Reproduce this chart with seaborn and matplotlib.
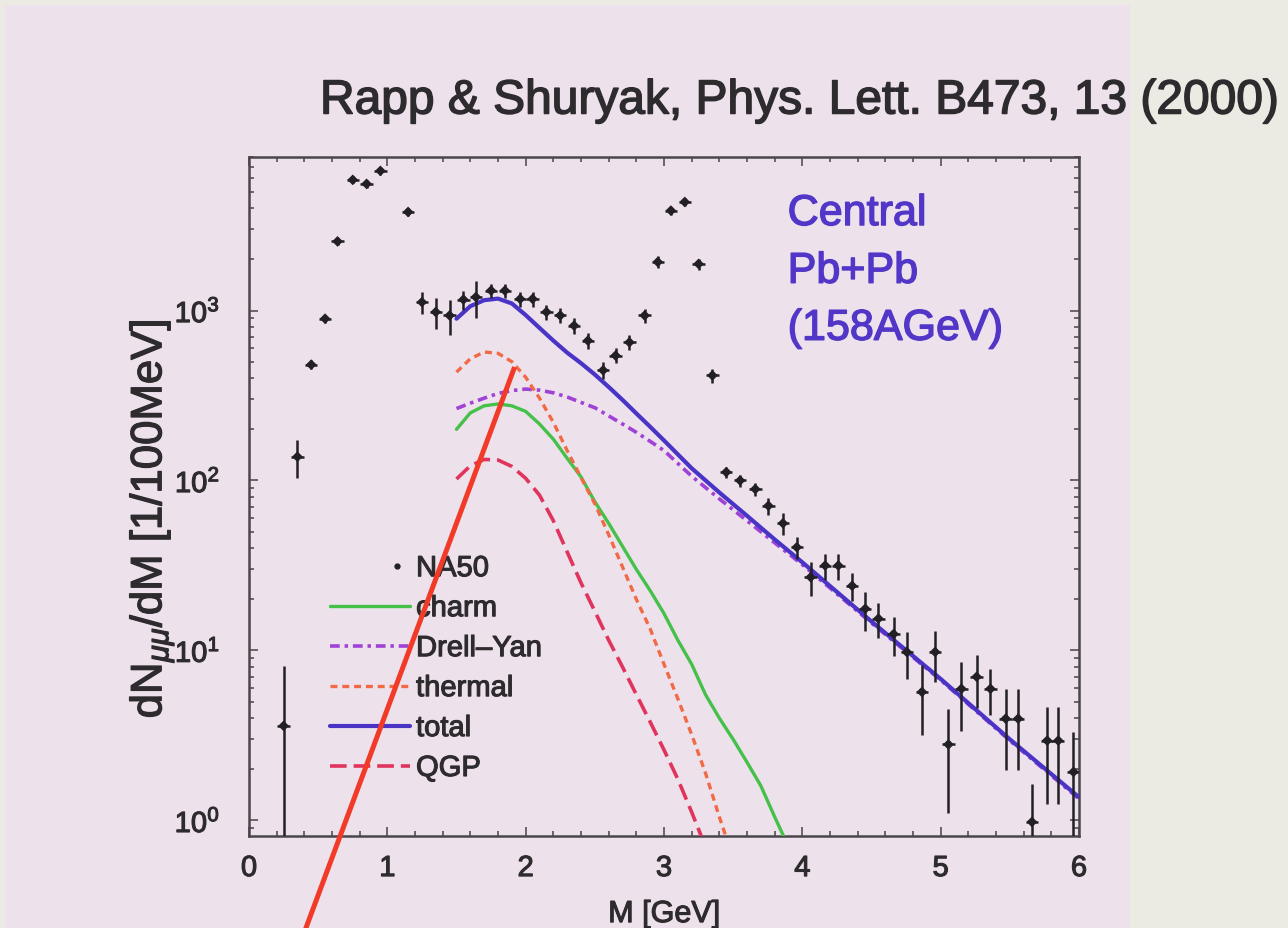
import numpy as np
import pandas as pd
import matplotlib
matplotlib.use("Agg")
import matplotlib.pyplot as plt
import matplotlib.patheffects as pe
from matplotlib.patches import Rectangle
from matplotlib.lines import Line2D
from matplotlib.legend_handler import HandlerLine2D
from matplotlib.ticker import LogLocator, MultipleLocator, NullFormatter
import seaborn as sns

# ---------------- data ----------------
# NA50 dimuon spectrum, central Pb+Pb at 158 AGeV
na50_mass = [0.25, 0.35, 0.45, 0.55, 0.64, 0.75, 0.85, 0.95, 1.15,
             1.25, 1.35, 1.45, 1.55, 1.64, 1.75, 1.85, 1.96, 2.05, 2.15, 2.25,
             2.35, 2.45, 2.56, 2.65, 2.75, 2.86, 2.955, 3.05, 3.15, 3.25, 3.35,
             3.45, 3.55, 3.66, 3.755, 3.86, 3.96, 4.06, 4.165, 4.26, 4.36,
             4.455, 4.55, 4.66, 4.755, 4.865, 4.96, 5.056, 5.15, 5.26, 5.36,
             5.47, 5.56, 5.66, 5.77, 5.85, 5.96]
na50_yield = [3.6, 138, 480, 895, 2550, 5870, 5560, 6630, 3800,
              1120, 980, 935, 1160, 1200, 1310, 1310, 1170, 1170, 980, 935,
              815, 665, 445, 543, 650, 935, 1930, 3870, 4350, 1880, 415,
              112, 100, 89, 71, 56, 40.5, 27, 31.6, 31.6, 24,
              17.6, 15.4, 12.5, 9.8, 5.7, 9.8, 2.8, 5.95, 7.0, 5.95,
              3.97, 3.97, 0.98, 2.95, 2.95, 1.93]
na50_err = [4.5, 35, 30, 50, 130, 280, 280, 320, 200,
            160, 200, 220, 150, 300, 130, 130, 120, 120, 100, 95,
            85, 70, 50, 55, 65, 90, 150, 220, 230, 140, 40,
            8, 8, 8, 8, 8, 6, 6, 5.5, 5.5, 4.5,
            4.5, 3.6, 3.2, 3.0, 2.5, 3.3, 1.7, 2.6, 2.4, 1.8,
            2.0, 2.0, 0.65, 1.7, 1.7, 1.4]
na50_bin_half = 0.045

# model curves (Rapp & Shuryak)
model_mass = [1.5, 1.6, 1.7, 1.8, 1.9, 2.0, 2.1, 2.2, 2.3, 2.4, 2.5, 2.6, 2.7,
              2.8, 2.9, 3.0, 3.2, 3.4, 3.6, 3.8, 4.0, 4.5, 5.0, 5.5, 6.0]
total = [895, 1060, 1150, 1175, 1100, 940, 790, 665, 565, 490, 420, 355, 298,
         248, 207, 172, 118, 85, 62, 45, 33, 14.8, 6.8, 3.0, 1.37]
drell_yan = [265, 285, 305, 325, 338, 345, 340, 328, 310, 288, 268, 240, 215,
             192, 170, 150, 106, 78, 58, 43, 32, 14.5, 6.7, 2.95, 1.34]

charm_mass = [1.5, 1.6, 1.7, 1.8, 1.9, 2.0, 2.1, 2.2, 2.3, 2.4, 2.5, 2.6, 2.7,
              2.8, 2.9, 3.0, 3.1, 3.2, 3.3, 3.4, 3.5, 3.6, 3.7, 3.8, 3.9]
charm = [200, 250, 275, 282, 275, 255, 215, 175, 135, 105, 75, 56, 41,
         30, 22.5, 16.5, 11.5, 8.3, 5.5, 4.0, 3.0, 2.2, 1.6, 1.05, 0.7]

thermal_mass = [1.5, 1.6, 1.7, 1.8, 1.9, 2.0, 2.1, 2.2, 2.3, 2.4, 2.5, 2.6,
                2.7, 2.8, 2.9, 3.0, 3.1, 3.2, 3.3, 3.4, 3.5]
thermal = [434, 520, 570, 560, 500, 405, 305, 220, 150, 104, 73, 48,
           31, 20, 13.4, 8.3, 5.2, 3.2, 1.9, 1.05, 0.6]

qgp_mass = [1.5, 1.6, 1.7, 1.8, 1.9, 2.0, 2.1, 2.2, 2.3, 2.4, 2.5, 2.6,
            2.7, 2.8, 2.9, 3.0, 3.1, 3.2, 3.3]
qgp = [102, 122, 133, 132, 121, 103, 82, 58, 38, 25, 17, 11.5,
       8.0, 5.5, 3.8, 2.6, 1.75, 1.12, 0.7]

# straight marker line overlaid on the spectrum
marker_line_mass = [0.356, 1.92]
marker_line_yield = [0.176, 465]

x_ticks = [0, 1, 2, 3, 4, 5, 6]
title_text = "Rapp & Shuryak, Phys. Lett. B473, 13 (2000)"
system_lines = ["Central", "Pb+Pb", "(158AGeV)"]
legend_labels = ["NA50", "charm", "Drell\u2013Yan", "thermal", "total", "QGP"]

# ---------------- style ----------------
sns.set_style("ticks")
plt.rcParams["font.family"] = ["Liberation Sans", "DejaVu Sans"]
plt.rcParams["mathtext.fontset"] = "custom"
plt.rcParams["mathtext.rm"] = "Liberation Sans"
plt.rcParams["mathtext.it"] = "Liberation Sans:italic"
plt.rcParams["mathtext.bf"] = "Liberation Sans:bold"
plt.rcParams["lines.scale_dashes"] = False

TXT = "#2e2b2e"
C_DATA = "#222024"
C_TOTAL = "#4a34c6"
C_DY = "#a042d6"
C_THERM = "#f26a45"
C_QGP = "#e0345c"
C_CHARM = "#45c048"
C_RED = "#f23a28"
C_SYS = "#5136c8"

LS_DY = (0, (7, 3.5, 2.5, 3.5))
LS_THERM = (0, (5, 3.5))
LS_QGP = (0, (12, 5))


def heavy(color, w=0.9):
    """Slightly thicker glyph strokes for printed-style lettering."""
    return [pe.withStroke(linewidth=w, foreground=color)]


fig = plt.figure(figsize=(12.88, 9.29), dpi=100)
fig.patch.set_facecolor("#ecebe3")
fig.patches.append(Rectangle((0.004, 0.0), 0.873, 0.994, transform=fig.transFigure,
                             facecolor="#ede2ec", edgecolor="none", zorder=-10))

ax = fig.add_axes([0.19332, 0.09903, 0.64441, 0.73089])
ax.set_facecolor("none")

# model curves
sns.lineplot(x=model_mass, y=drell_yan, ax=ax, color=C_DY, lw=2.6,
             linestyle=LS_DY, zorder=3)
sns.lineplot(x=charm_mass, y=charm, ax=ax, color=C_CHARM, lw=2.4, zorder=3)
sns.lineplot(x=thermal_mass, y=thermal, ax=ax, color=C_THERM, lw=2.4,
             linestyle=LS_THERM, zorder=3)
sns.lineplot(x=qgp_mass, y=qgp, ax=ax, color=C_QGP, lw=2.6,
             linestyle=LS_QGP, zorder=3)
sns.lineplot(x=model_mass, y=total, ax=ax, color=C_TOTAL, lw=3.0, zorder=4)

# data with error bars
na50_y = np.array(na50_yield)
na50_e = np.array(na50_err)
lower = np.minimum(na50_e, na50_y - 0.4)
ax.errorbar(na50_mass, na50_y, yerr=[lower, na50_e], xerr=na50_bin_half,
            fmt="none", ecolor=C_DATA, elinewidth=1.8, capsize=0, zorder=5)
sns.scatterplot(x=na50_mass, y=na50_yield, ax=ax, marker="D", s=30,
                color=C_DATA, edgecolor="none", zorder=6, legend=False)

# straight overlay line (extends past the frame)
ax.plot(marker_line_mass, marker_line_yield, color=C_RED, lw=3.6,
        solid_capstyle="butt", clip_on=False, zorder=8)

ax.set_yscale("log")
ax.set_xlim(0, 6)
ax.set_ylim(0.81, 8000)
ax.set_xticks(x_ticks)
ax.xaxis.set_minor_locator(MultipleLocator(0.2))
ax.yaxis.set_major_locator(LogLocator(base=10, numticks=10))
ax.yaxis.set_minor_locator(LogLocator(base=10, subs=np.arange(2, 10), numticks=20))
ax.yaxis.set_minor_formatter(NullFormatter())
ax.tick_params(which="both", direction="in", top=True, right=True,
               colors="#555055", labelcolor=TXT, width=1.2)
ax.tick_params(which="major", length=6.5, labelsize=21)
ax.tick_params(which="minor", length=3.5)
ax.tick_params(axis="x", which="major", pad=13)
ax.tick_params(axis="y", which="major", pad=21)
for s in ax.spines.values():
    s.set_color("#4a464c")
    s.set_linewidth(1.8)
    s.set_visible(True)

ax.set_xlabel("M [GeV]", fontsize=22, color=TXT)
ax.xaxis.label.set_va("center")
ax.xaxis.set_label_coords(0.5, -0.115)
ax.set_ylabel(r"dN$_{\mu\mu}$/dM [1/100MeV]", fontsize=31.5, color=TXT)
ax.yaxis.label.set_va("center")
ax.yaxis.set_label_coords(-0.117, 0.467)


class RightDotHandler(HandlerLine2D):
    """Legend handler that puts a single marker near the right end of the handle."""

    def get_xdata(self, legend, xdescent, ydescent, width, height, fontsize):
        x = np.array([0.84 * width - xdescent])
        return x, x


# legend
handles = [Line2D([], [], ls="none", marker="o", ms=3.5, color=C_DATA),
           Line2D([], [], color=C_CHARM, lw=2.4),
           Line2D([], [], color=C_DY, lw=2.6, ls=LS_DY),
           Line2D([], [], color=C_THERM, lw=2.4, ls=LS_THERM),
           Line2D([], [], color=C_TOTAL, lw=3.0),
           Line2D([], [], color=C_QGP, lw=2.6, ls=LS_QGP)]
leg = ax.legend(handles, legend_labels, loc="upper left",
                bbox_to_anchor=((330 - 249) / 830, 0.415), frameon=False,
                fontsize=21, handlelength=2.75, handletextpad=0.2,
                labelspacing=0.41, borderpad=0, borderaxespad=0, numpoints=1,
                handler_map={handles[0]: RightDotHandler()})
for t in leg.get_texts():
    t.set_color(TXT)
    t.set_path_effects(heavy(TXT, 0.8))

# collision system annotation
for line, yf in zip(system_lines, [0.916, 0.831, 0.747]):
    ax.text(0.649, yf, line, transform=ax.transAxes, fontsize=31, color=C_SYS,
            ha="left", va="center", path_effects=heavy(C_SYS, 1.0))

fig.text(799 / 1288, 1 - 102 / 929, title_text, fontsize=34.5, color=TXT,
         ha="center", va="center", path_effects=heavy(TXT, 1.1))

for lab in ax.get_xticklabels() + ax.get_yticklabels():
    lab.set_path_effects(heavy(TXT, 0.8))
ax.xaxis.label.set_path_effects(heavy(TXT, 0.8))
ax.yaxis.label.set_path_effects(heavy(TXT, 0.9))

fig.savefig("out.png", dpi=100, facecolor=fig.get_facecolor())
